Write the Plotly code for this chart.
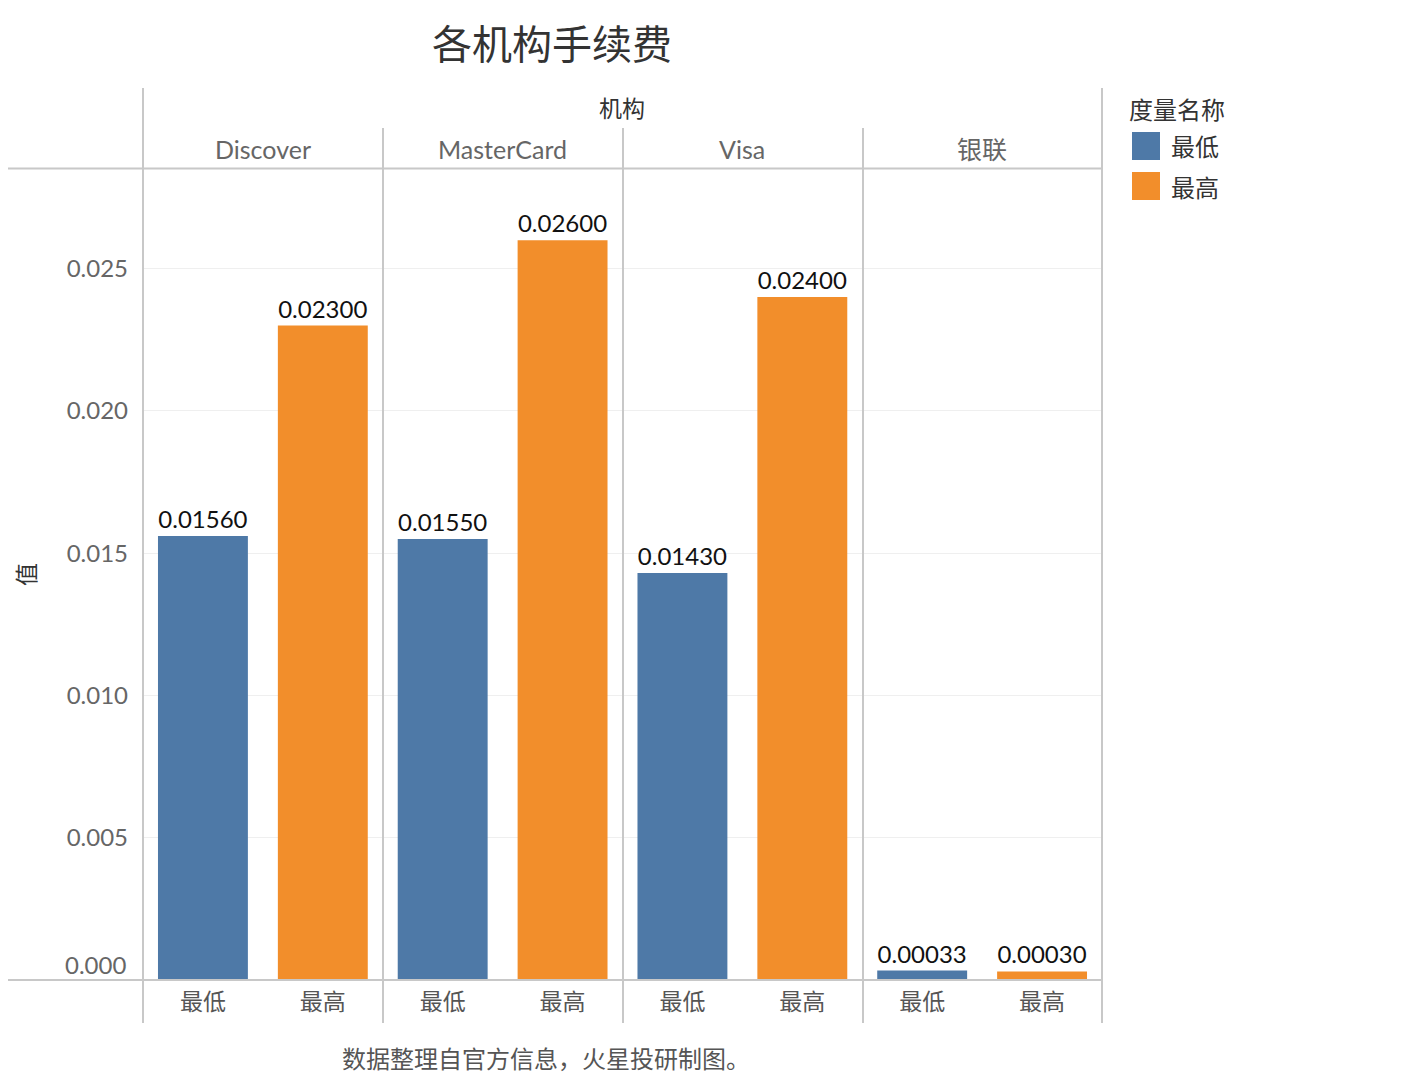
import plotly.graph_objects as go
from plotly.subplots import make_subplots

# ---- data ----
institutions = ["Discover", "MasterCard", "Visa", "银联"]
measures = ["最低", "最高"]
low_values = [0.0156, 0.0155, 0.0143, 0.00033]
high_values = [0.023, 0.026, 0.024, 0.0003]
colors = ["#4e79a7", "#f28e2b"]
y_ticks = [0.0, 0.005, 0.010, 0.015, 0.020, 0.025]
y_tick_labels = ["", "0.005", "0.010", "0.015", "0.020", "0.025"]
zero_label = "0.000"

W, H = 1406, 1078
OFF = 8  # page body margin
L, R, T, B = 143, 1102, 169, 980  # plot area in page px

def px_x(p):
    return (p - L) / (R - L)

def px_y(p):
    return (B - p) / (B - T)

FONT = "Lato, 'Noto Sans CJK SC', sans-serif"
CJK = "'Noto Sans CJK SC', sans-serif"
LINE = "#c8c8c8"

fig = make_subplots(rows=1, cols=4, shared_yaxes=True, horizontal_spacing=0)

for i, inst in enumerate(institutions):
    vals = [low_values[i], high_values[i]]
    fig.add_trace(
        go.Bar(
            x=measures,
            y=vals,
            marker=dict(color=colors, line=dict(width=0)),
            width=0.75,
            texttemplate="%{y:.5f}",
            textposition="outside",
            textfont=dict(family=FONT, size=24, color="#111111"),
            cliponaxis=False,
            showlegend=False,
            hoverinfo="x+y",
        ),
        row=1, col=i + 1,
    )
    fig.update_xaxes(
        type="category",
        categoryorder="array",
        categoryarray=measures,
        range=[-0.5, 1.5],
        showgrid=False,
        zeroline=False,
        showline=False,
        ticks="",
        tickfont=dict(family=CJK, size=23, color="#555555"),
        ticklabelstandoff=6,
        row=1, col=i + 1,
    )

fig.update_yaxes(
    range=[0, 0.0285],
    tickvals=y_ticks,
    ticktext=y_tick_labels,
    showgrid=True,
    gridcolor="#efefef",
    gridwidth=1,
    zeroline=False,
    showline=False,
    ticks="",
)
fig.update_yaxes(
    tickfont=dict(family=FONT, size=24, color="#666666"),
    ticklabelstandoff=14,
    title=dict(text="值", font=dict(family=CJK, size=23, color="#333333"), standoff=26),
    row=1, col=1,
)

shapes = []
def hline(x0, x1, y):
    shapes.append(dict(type="line", xref="paper", yref="paper",
                       x0=px_x(x0), x1=px_x(x1), y0=px_y(y), y1=px_y(y),
                       line=dict(color=LINE, width=2), layer="above"))
def vline(x, y0, y1):
    shapes.append(dict(type="line", xref="paper", yref="paper",
                       x0=px_x(x), x1=px_x(x), y0=px_y(y0), y1=px_y(y1),
                       line=dict(color=LINE, width=2), layer="above"))

hline(0, R, 168.5)
hline(0, R, 980)
vline(143, 88, 1023)
vline(1102, 88, 1023)
for xs in [383, 623, 863]:
    vline(xs, 128, 1023)

# legend boxes
legend_y = [146, 186]
for c, yy in zip(colors, legend_y):
    shapes.append(dict(type="rect", xref="paper", yref="paper",
                       x0=px_x(1132), x1=px_x(1160), y0=px_y(yy - 14), y1=px_y(yy + 14),
                       fillcolor=c, line=dict(width=0)))

annotations = []
annotations.append(dict(text=zero_label, xref="paper", yref="y", x=px_x(128), y=0,
                        xanchor="right", yanchor="middle", yshift=16, showarrow=False,
                        font=dict(family=FONT, size=24, color="#666666")))
annotations.append(dict(text="各机构手续费", xref="paper", yref="paper",
                        x=px_x(552), y=px_y(42), xanchor="center", yanchor="middle",
                        showarrow=False, font=dict(family=CJK, size=40, color="#333333")))
annotations.append(dict(text="机构", xref="paper", yref="paper",
                        x=px_x(622), y=px_y(107), xanchor="center", yanchor="middle",
                        showarrow=False, font=dict(family=CJK, size=23, color="#333333")))
facet_centers = [263, 502, 742, 982]
for name, cx in zip(institutions, facet_centers):
    annotations.append(dict(text=name, xref="paper", yref="paper",
                            x=px_x(cx), y=px_y(149), xanchor="center", yanchor="middle",
                            showarrow=False, font=dict(family=FONT, size=25, color="#666666")))
annotations.append(dict(text="数据整理自官方信息，火星投研制图。", xref="paper", yref="paper",
                        x=px_x(546), y=px_y(1057), xanchor="center", yanchor="middle",
                        showarrow=False, font=dict(family=CJK, size=24, color="#555555")))
annotations.append(dict(text="度量名称", xref="paper", yref="paper",
                        x=px_x(1127), y=px_y(108), xanchor="left", yanchor="middle",
                        showarrow=False, font=dict(family=CJK, size=24, color="#333333")))
for m, yy in zip(measures, legend_y):
    annotations.append(dict(text=m, xref="paper", yref="paper",
                            x=px_x(1169), y=px_y(yy), xanchor="left", yanchor="middle",
                            showarrow=False, font=dict(family=CJK, size=24, color="#333333")))

fig.update_layout(
    width=W, height=H,
    margin=dict(l=L - OFF, r=W - (R - OFF), t=T - OFF, b=H - (B - OFF), pad=0),
    plot_bgcolor="white",
    paper_bgcolor="white",
    shapes=shapes,
    annotations=annotations,
    showlegend=False,
)

fig.write_html("out.html")
